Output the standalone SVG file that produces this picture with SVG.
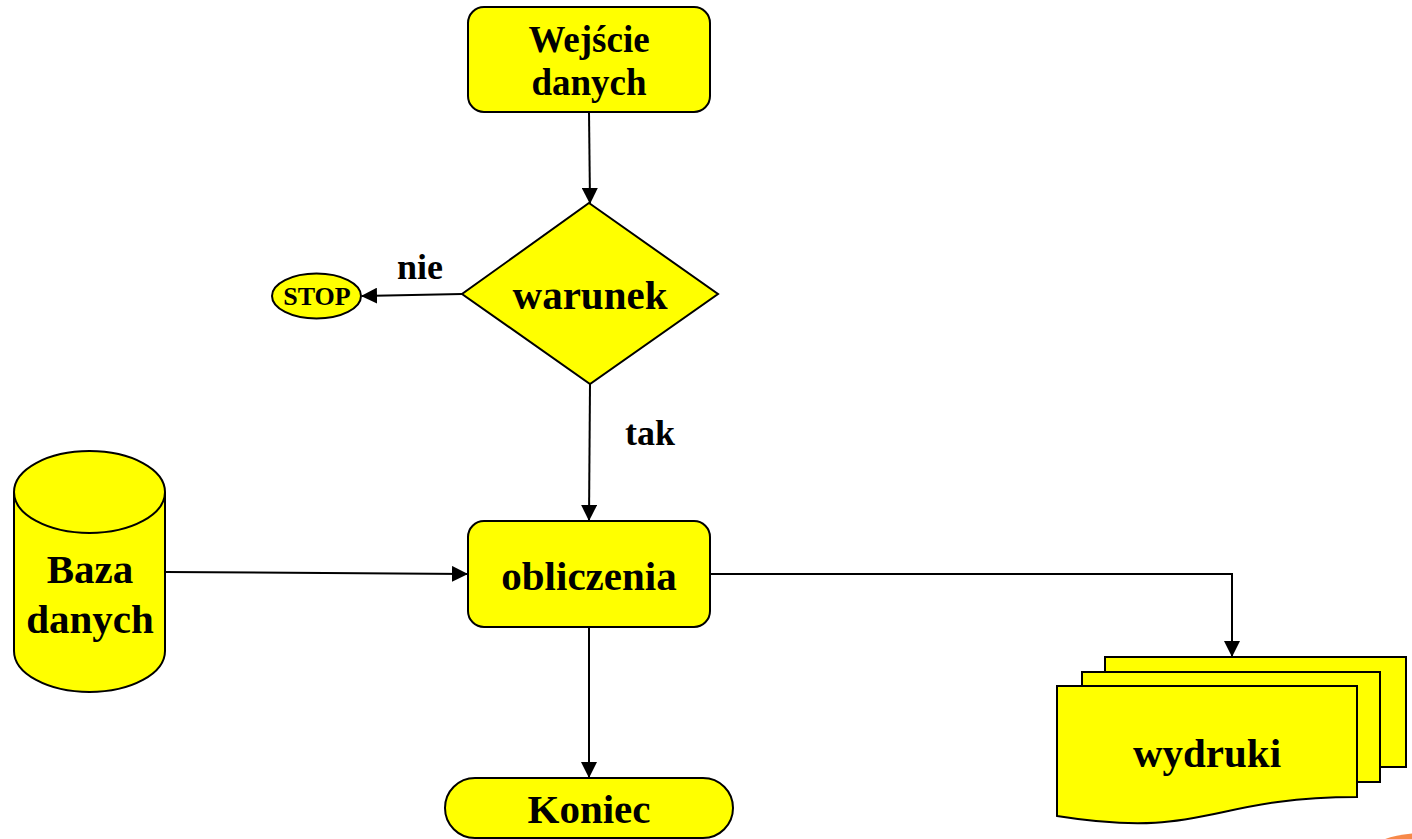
<svg xmlns="http://www.w3.org/2000/svg" width="1412" height="839" viewBox="0 0 1412 839">
<style>
.shape{fill:#FFFF00;stroke:#000;stroke-width:2}
.t{font-family:"Liberation Serif","Times New Roman",serif;font-weight:bold;fill:#000;text-anchor:middle}
.conn{fill:none;stroke:#000;stroke-width:2}
</style>
<defs>
<marker id="arr" viewBox="0 0 16 16" refX="15" refY="8" markerWidth="16" markerHeight="16" markerUnits="userSpaceOnUse" orient="auto">
<path d="M0,0 L16,8 L0,16 Z" fill="#000"/>
</marker>
</defs>
<rect width="1412" height="839" fill="#fff"/>
<g id="connectors">
<line class="conn" x1="589" y1="112" x2="590" y2="203" marker-end="url(#arr)"/>
<line class="conn" x1="462" y1="294" x2="362" y2="296" marker-end="url(#arr)"/>
<line class="conn" x1="590" y1="384" x2="589" y2="520" marker-end="url(#arr)"/>
<line class="conn" x1="165" y1="572" x2="467" y2="574" marker-end="url(#arr)"/>
<polyline class="conn" points="710,574 1232,574 1232,656" marker-end="url(#arr)"/>
<line class="conn" x1="589" y1="627" x2="589" y2="777" marker-end="url(#arr)"/>
<text class="t" x="420" y="279" font-size="36">nie</text>
<text class="t" x="650" y="445" font-size="36">tak</text>
</g>
<g id="wejscie">
<rect class="shape" x="468" y="7" width="242" height="105" rx="16"/>
<text class="t" x="589" y="52" font-size="37">Wejście</text>
<text class="t" x="589" y="95" font-size="37">danych</text>
</g>
<g id="warunek">
<polygon class="shape" points="589,203 718,294 590,384 462,294"/>
<text class="t" x="590" y="309" font-size="41">warunek</text>
</g>
<g id="stop">
<ellipse class="shape" cx="316.5" cy="296" rx="44.5" ry="22.5"/>
<text class="t" x="317" y="305" font-size="26">STOP</text>
</g>
<g id="obliczenia">
<rect class="shape" x="468" y="521" width="242" height="106" rx="16"/>
<text class="t" x="589" y="590" font-size="41">obliczenia</text>
</g>
<g id="baza">
<path class="shape" d="M14,492 L14,651 A75.5,41 0 0 0 165,651 L165,492 A75.5,41 0 0 0 14,492 Z"/>
<path class="shape" d="M14,492 A75.5,41 0 0 0 165,492" fill="none"/>
<text class="t" x="90" y="583" font-size="41">Baza</text>
<text class="t" x="90" y="633" font-size="41">danych</text>
</g>
<g id="wydruki">
<rect class="shape" x="1105" y="657" width="301" height="110"/>
<rect class="shape" x="1082" y="672" width="298" height="110"/>
<path class="shape" d="M1057,686 L1357,686 L1357,797 C1207,797 1207,840 1057,816 Z"/>
<text class="t" x="1207" y="767" font-size="41">wydruki</text>
</g>
<g id="koniec">
<rect class="shape" x="445" y="778" width="288" height="60" rx="30"/>
<text class="t" x="589" y="823" font-size="41">Koniec</text>
</g>
<ellipse cx="1442" cy="845" rx="64" ry="13" fill="#F7894A"/>
</svg>
